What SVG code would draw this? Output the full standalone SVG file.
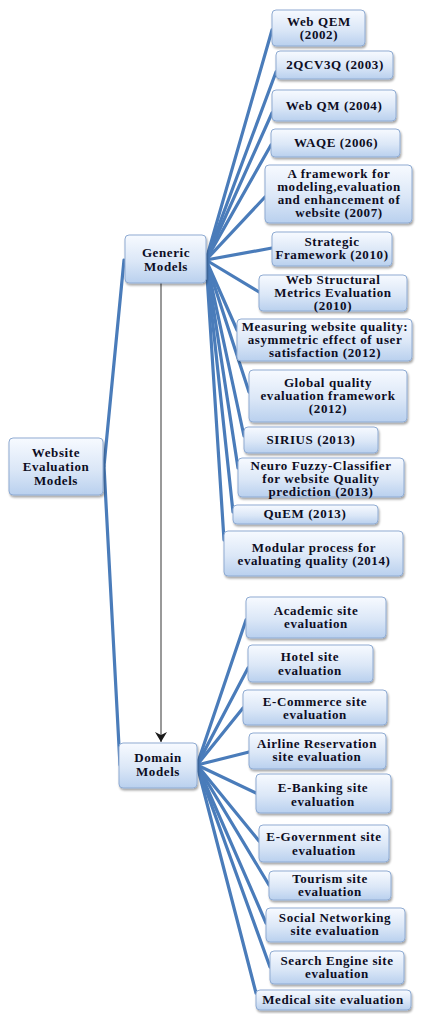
<svg xmlns="http://www.w3.org/2000/svg" width="423" height="1014" viewBox="0 0 423 1014">
<defs>
<linearGradient id="g" x1="0" y1="0" x2="0" y2="1">
<stop offset="0" stop-color="#f7faff"/>
<stop offset="0.55" stop-color="#dbe7f7"/>
<stop offset="1" stop-color="#b9d0ee"/>
</linearGradient>
<filter id="sh" x="-10%" y="-10%" width="125%" height="135%">
<feDropShadow dx="1" dy="2" stdDeviation="1.2" flood-color="#000" flood-opacity="0.35"/>
</filter>
<marker id="ah" markerWidth="10" markerHeight="12" refX="10" refY="6" orient="auto" markerUnits="userSpaceOnUse">
<path d="M0,0 L10,6 L0,12 L3,6 Z" fill="#1a1a1a"/>
</marker>
<style>
.box{fill:url(#g);stroke:#8fabd2;stroke-width:1;filter:url(#sh)}
.t{font-family:"Liberation Serif","Times New Roman",serif;font-weight:bold;font-size:13px;letter-spacing:0.6px;fill:#0d0d1f;text-anchor:middle}
.c{stroke:#4a7cba;stroke-width:3.2;fill:none;stroke-linecap:round}
.ar{stroke:#555;stroke-width:1.2;fill:none}
</style>
</defs>
<rect width="423" height="1014" fill="#fff"/>
<g id="connectors">
<line class="c" x1="104" y1="466" x2="124" y2="260"/>
<line class="c" x1="104" y1="466" x2="120" y2="765"/>
<line class="c" x1="206" y1="260" x2="272" y2="30"/>
<line class="c" x1="206" y1="260" x2="276" y2="72"/>
<line class="c" x1="206" y1="260" x2="272" y2="113"/>
<line class="c" x1="206" y1="260" x2="271" y2="145"/>
<line class="c" x1="206" y1="260" x2="265" y2="197"/>
<line class="c" x1="206" y1="260" x2="272" y2="248"/>
<line class="c" x1="206" y1="260" x2="259" y2="292"/>
<line class="c" x1="206" y1="260" x2="237" y2="330"/>
<line class="c" x1="206" y1="260" x2="249" y2="392"/>
<line class="c" x1="206" y1="260" x2="244" y2="436"/>
<line class="c" x1="206" y1="260" x2="238" y2="468"/>
<line class="c" x1="206" y1="260" x2="233" y2="512"/>
<line class="c" x1="206" y1="260" x2="224" y2="540"/>
<line class="c" x1="197" y1="765" x2="246" y2="620"/>
<line class="c" x1="197" y1="765" x2="248" y2="668"/>
<line class="c" x1="197" y1="765" x2="243" y2="708"/>
<line class="c" x1="197" y1="765" x2="249" y2="752"/>
<line class="c" x1="197" y1="765" x2="256" y2="793"/>
<line class="c" x1="197" y1="765" x2="259" y2="841"/>
<line class="c" x1="197" y1="765" x2="269" y2="885"/>
<line class="c" x1="197" y1="765" x2="266" y2="923"/>
<line class="c" x1="197" y1="765" x2="270" y2="967"/>
<line class="c" x1="197" y1="765" x2="256" y2="993"/>
<line class="ar" x1="161" y1="283" x2="161" y2="742" marker-end="url(#ah)"/>
</g>
<g id="website">
<rect class="box" x="9" y="438" width="94" height="57" rx="4"/>
<text class="t" x="56" y="457">Website</text>
<text class="t" x="56" y="471">Evaluation</text>
<text class="t" x="56" y="485">Models</text>
</g>
<g id="generic">
<rect class="box" x="125" y="235" width="81" height="48" rx="4"/>
<text class="t" x="166" y="257">Generic</text>
<text class="t" x="166" y="271">Models</text>
</g>
<g id="domain">
<rect class="box" x="119" y="743" width="78" height="45" rx="4"/>
<text class="t" x="158" y="762">Domain</text>
<text class="t" x="158" y="776">Models</text>
</g>
<g id="webqem">
<rect class="box" x="272" y="10" width="93" height="36" rx="4"/>
<text class="t" x="319" y="26">Web QEM</text>
<text class="t" x="319" y="39">(2002)</text>
</g>
<g id="qcv3q">
<rect class="box" x="276" y="51" width="117" height="28" rx="4"/>
<text class="t" x="335" y="69">2QCV3Q (2003)</text>
</g>
<g id="webqm">
<rect class="box" x="272" y="90" width="124" height="31" rx="4"/>
<text class="t" x="334" y="110">Web QM (2004)</text>
</g>
<g id="waqe">
<rect class="box" x="271" y="129" width="129" height="28" rx="4"/>
<text class="t" x="336" y="147">WAQE (2006)</text>
</g>
<g id="framework">
<rect class="box" x="265" y="165" width="147" height="58" rx="4"/>
<text class="t" x="339" y="178">A framework for</text>
<text class="t" x="339" y="191">modeling,evaluation</text>
<text class="t" x="339" y="204">and enhancement of</text>
<text class="t" x="339" y="217">website (2007)</text>
</g>
<g id="strategic">
<rect class="box" x="272" y="232" width="120" height="34" rx="4"/>
<text class="t" x="332" y="246">Strategic</text>
<text class="t" x="332" y="259">Framework (2010)</text>
</g>
<g id="webstructural">
<rect class="box" x="259" y="275" width="148" height="36" rx="4"/>
<text class="t" x="333" y="284">Web Structural</text>
<text class="t" x="333" y="297">Metrics Evaluation</text>
<text class="t" x="333" y="310">(2010)</text>
</g>
<g id="measuring">
<rect class="box" x="237" y="319" width="175" height="42" rx="4"/>
<text class="t" x="325" y="331">Measuring website quality:</text>
<text class="t" x="325" y="344">asymmetric effect of user</text>
<text class="t" x="325" y="357">satisfaction (2012)</text>
</g>
<g id="global">
<rect class="box" x="249" y="370" width="158" height="52" rx="4"/>
<text class="t" x="328" y="387">Global quality</text>
<text class="t" x="328" y="400">evaluation framework</text>
<text class="t" x="328" y="413">(2012)</text>
</g>
<g id="sirius">
<rect class="box" x="244" y="427" width="134" height="26" rx="4"/>
<text class="t" x="311" y="444">SIRIUS (2013)</text>
</g>
<g id="neuro">
<rect class="box" x="238" y="458" width="166" height="39" rx="4"/>
<text class="t" x="321" y="470">Neuro Fuzzy-Classifier</text>
<text class="t" x="321" y="483">for website Quality</text>
<text class="t" x="321" y="496">prediction (2013)</text>
</g>
<g id="quem">
<rect class="box" x="233" y="505" width="145" height="19" rx="4"/>
<text class="t" x="305" y="518">QuEM (2013)</text>
</g>
<g id="modular">
<rect class="box" x="224" y="531" width="179" height="45" rx="4"/>
<text class="t" x="314" y="552">Modular process for</text>
<text class="t" x="314" y="565">evaluating quality (2014)</text>
</g>
<g id="academic">
<rect class="box" x="246" y="597" width="140" height="41" rx="4"/>
<text class="t" x="316" y="615">Academic site</text>
<text class="t" x="316" y="628">evaluation</text>
</g>
<g id="hotel">
<rect class="box" x="248" y="645" width="125" height="37" rx="4"/>
<text class="t" x="310" y="661">Hotel site</text>
<text class="t" x="310" y="675">evaluation</text>
</g>
<g id="ecommerce">
<rect class="box" x="243" y="690" width="144" height="35" rx="4"/>
<text class="t" x="315" y="706">E-Commerce site</text>
<text class="t" x="315" y="719">evaluation</text>
</g>
<g id="airline">
<rect class="box" x="249" y="733" width="137" height="36" rx="4"/>
<text class="t" x="317" y="748">Airline Reservation</text>
<text class="t" x="317" y="761">site evaluation</text>
</g>
<g id="ebanking">
<rect class="box" x="256" y="774" width="135" height="39" rx="4"/>
<text class="t" x="323" y="792">E-Banking site</text>
<text class="t" x="323" y="806">evaluation</text>
</g>
<g id="egovernment">
<rect class="box" x="259" y="825" width="130" height="37" rx="4"/>
<text class="t" x="324" y="841">E-Government site</text>
<text class="t" x="324" y="855">evaluation</text>
</g>
<g id="tourism">
<rect class="box" x="269" y="871" width="122" height="29" rx="4"/>
<text class="t" x="330" y="883">Tourism site</text>
<text class="t" x="330" y="896">evaluation</text>
</g>
<g id="social">
<rect class="box" x="266" y="908" width="139" height="34" rx="4"/>
<text class="t" x="335" y="922">Social Networking</text>
<text class="t" x="335" y="935">site evaluation</text>
</g>
<g id="search">
<rect class="box" x="270" y="951" width="134" height="33" rx="4"/>
<text class="t" x="337" y="965">Search Engine site</text>
<text class="t" x="337" y="978">evaluation</text>
</g>
<g id="medical">
<rect class="box" x="256" y="990" width="155" height="20" rx="4"/>
<text class="t" x="333" y="1004">Medical site evaluation</text>
</g>
</svg>
